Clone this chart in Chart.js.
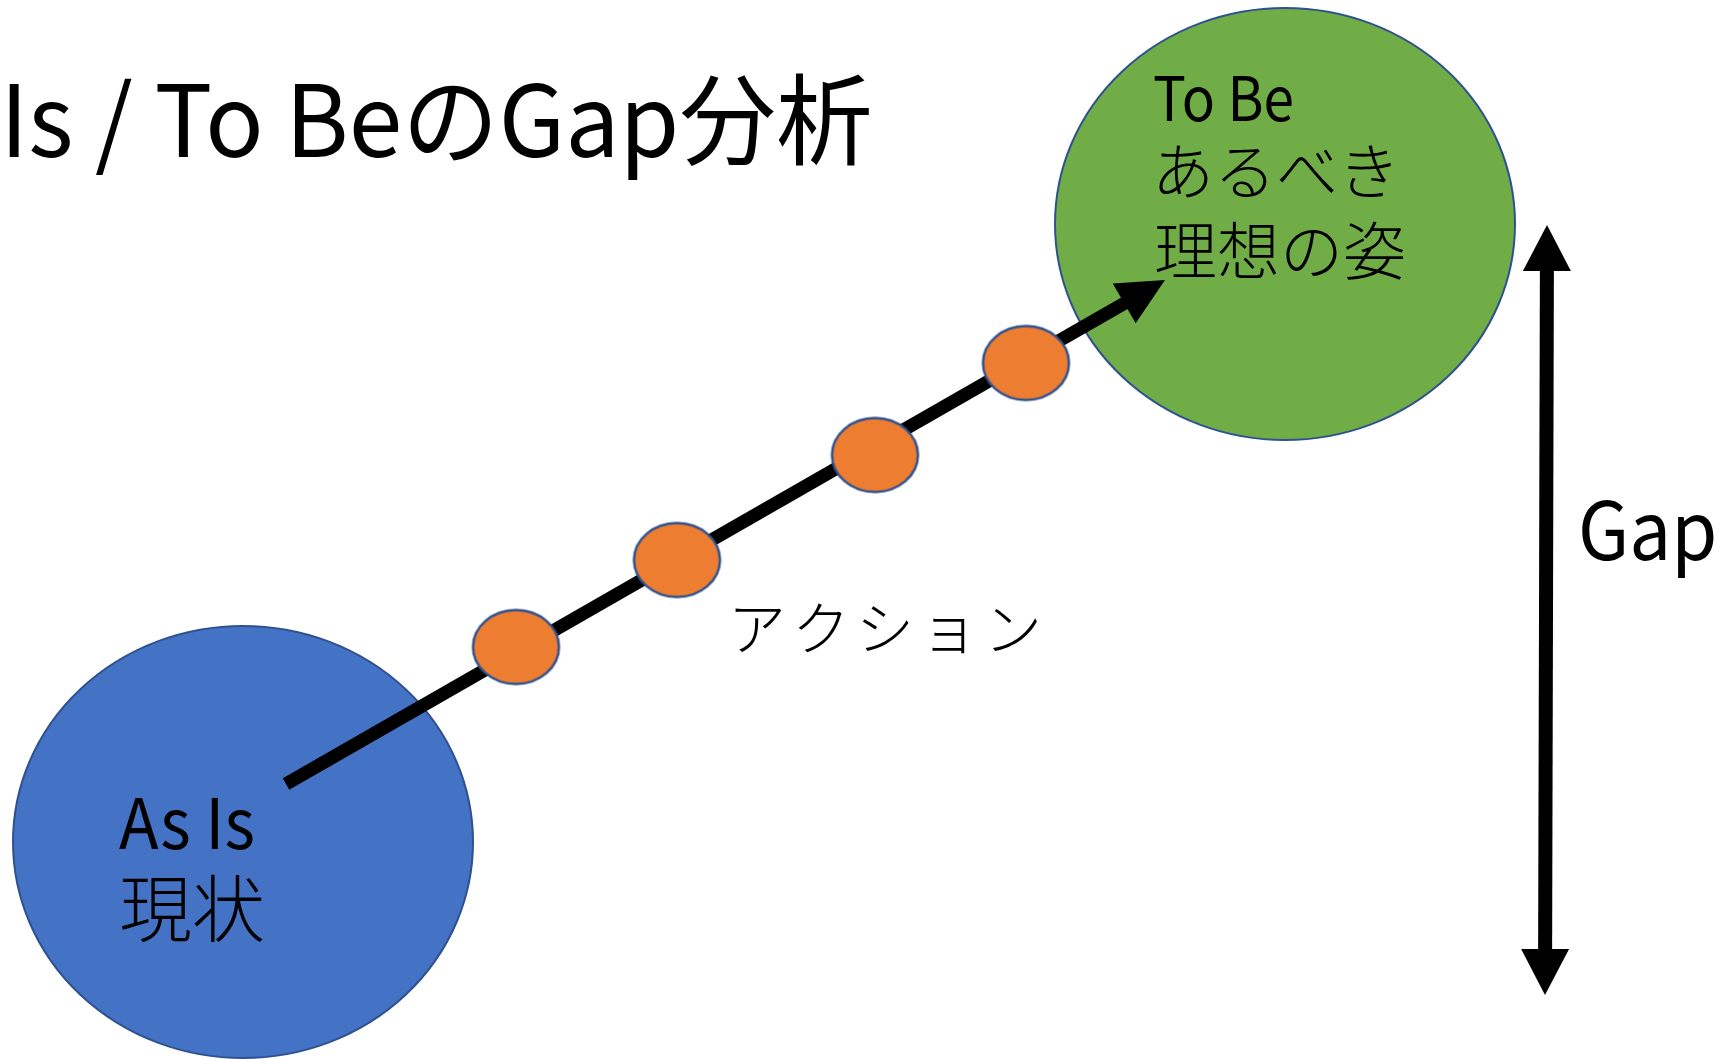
<!DOCTYPE html>
<html lang="ja">
<head>
<meta charset="utf-8">
<title>As Is / To Be の Gap 分析</title>
<script src="https://cdn.jsdelivr.net/npm/chart.js@4.4.1/dist/chart.umd.min.js"></script>
<style>
  html, body { margin: 0; padding: 0; background: #fff; }
  #wrap { width: 1735px; height: 1059px; }
</style>
</head>
<body>
<div id="wrap"><canvas id="graficoGap" width="1735" height="1059"></canvas></div>
<script>
const titulo = "Is / To BeのGap分析";

// 現状 (As Is) と 理想の姿 (To Be)
const nodeNames = ["As Is", "To Be"];
const nodeX = [243, 1285];
const nodeY = [842, 224];

// アクション (steps along the way)
const actionX = [516, 677, 875, 1026];
const actionY = [647, 560, 455, 363];

// action arrow: start -> tip
const pathX = [286, 1165];
const pathY = [784, 280];

// Gap arrow: top tip, bottom tip
const gapX = [1547, 1545];
const gapY = [225, 995];

const FONT = '"Noto Sans CJK JP", "Noto Sans", sans-serif';

const toPoints = (xs, ys) => xs.map((x, i) => ({ x: x, y: ys[i] }));

function ellipseImage(rx, ry, fill, stroke, lw) {
    const c = document.createElement("canvas");
    c.width = Math.ceil(2 * rx + lw + 2);
    c.height = Math.ceil(2 * ry + lw + 2);
    const g = c.getContext("2d");
    g.beginPath();
    g.ellipse(c.width / 2, c.height / 2, rx, ry, 0, 0, Math.PI * 2);
    g.fillStyle = fill;
    g.fill();
    g.lineWidth = lw;
    g.strokeStyle = stroke;
    g.stroke();
    return c;
}

const nodeImages = [
    ellipseImage(230, 216, "#4472C4", "#2F528F", 2),
    ellipseImage(230, 216, "#70AD47", "#2F528F", 2),
];
const actionImage = ellipseImage(43, 37, "#ED7D31", "#2F528F", 2.5);

// text blocks, placed in the same units as the data (sx = horizontal squeeze)
const textos = [
    { text: titulo, x: 0, y: 157, size: 99, sx: 0.975 },
    { text: "To Be", x: nodeX[1] - 132, y: 121, size: 61, sx: 0.9 },
    { text: "あるべき", x: nodeX[1] - 133, y: 195, size: 62, weight: 300 },
    { text: "理想の姿", x: nodeX[1] - 131, y: 274, size: 63, weight: 300 },
    { text: "As Is", x: nodeX[0] - 124, y: 849, size: 70, sx: 0.93 },
    { text: "現状", x: nodeX[0] - 124, y: 936, size: 73, weight: 300 },
    { text: "アクション", x: 728, y: 650, size: 58, weight: 300, pitch: 64 },
    { text: "Gap", x: gapX[0] + 31, y: 560, size: 80, sx: 0.93 },
];

const arrowPlugin = {
    id: "arrowHeads",
    heads(chart, args) {
        const ds = chart.data.datasets[args.index];
        if (!ds.arrow) return [];
        const pts = args.meta.data;
        const out = [];
        const make = (tip, prev) => {
            const dx = tip.x - prev.x, dy = tip.y - prev.y;
            const len = Math.hypot(dx, dy);
            const u = { x: dx / len, y: dy / len };
            const n = { x: -u.y, y: u.x };
            out.push({ tip: tip, u: u, n: n, length: ds.arrow.length, width: ds.arrow.width });
        };
        if (ds.arrow.start) make(pts[0], pts[1]);
        if (ds.arrow.end) make(pts[pts.length - 1], pts[pts.length - 2]);
        return out;
    },
    beforeDatasetDraw(chart, args) {
        const heads = this.heads(chart, args);
        if (!heads.length) return;
        const ctx = chart.ctx;
        ctx.save();
        const L = 5000;
        // cut the shaft where the heads go
        heads.forEach((h) => {
            const b = { x: h.tip.x - h.u.x * (h.length - 1), y: h.tip.y - h.u.y * (h.length - 1) };
            ctx.beginPath();
            ctx.moveTo(b.x + h.n.x * L, b.y + h.n.y * L);
            ctx.lineTo(b.x - h.n.x * L, b.y - h.n.y * L);
            ctx.lineTo(b.x - h.n.x * L - h.u.x * L, b.y - h.n.y * L - h.u.y * L);
            ctx.lineTo(b.x + h.n.x * L - h.u.x * L, b.y + h.n.y * L - h.u.y * L);
            ctx.closePath();
            ctx.clip();
        });
    },
    afterDatasetDraw(chart, args) {
        const heads = this.heads(chart, args);
        if (!heads.length) return;
        const ctx = chart.ctx;
        ctx.restore();
        ctx.save();
        ctx.fillStyle = chart.data.datasets[args.index].borderColor;
        heads.forEach((h) => {
            const b = { x: h.tip.x - h.u.x * h.length, y: h.tip.y - h.u.y * h.length };
            ctx.beginPath();
            ctx.moveTo(h.tip.x, h.tip.y);
            ctx.lineTo(b.x + h.n.x * h.width / 2, b.y + h.n.y * h.width / 2);
            ctx.lineTo(b.x - h.n.x * h.width / 2, b.y - h.n.y * h.width / 2);
            ctx.closePath();
            ctx.fill();
        });
        ctx.restore();
    },
};

const textPlugin = {
    id: "diagramText",
    afterDatasetsDraw(chart) {
        const ctx = chart.ctx;
        const sx = chart.scales.x, sy = chart.scales.y;
        textos.forEach((t) => {
            ctx.save();
            ctx.fillStyle = "#000";
            ctx.textBaseline = "alphabetic";
            ctx.textAlign = "left";
            ctx.font = (t.weight || 400) + " " + t.size + "px " + FONT;
            ctx.translate(sx.getPixelForValue(t.x), sy.getPixelForValue(t.y));
            ctx.scale(t.sx || 1, 1);
            if (t.pitch) {
                Array.from(t.text).forEach((ch, i) => ctx.fillText(ch, i * t.pitch, 0));
            } else {
                ctx.fillText(t.text, 0, 0);
            }
            ctx.restore();
        });
    },
};

const dataGap = {
    datasets: [
        {
            label: "Gap",
            data: toPoints(gapX, gapY),
            showLine: true,
            borderColor: "#000",
            borderWidth: 14,
            borderCapStyle: "butt",
            pointRadius: 0,
            arrow: { start: true, end: true, length: 46, width: 48 },
            clip: false,
            order: 1,
        },
        {
            label: "アクション",
            data: toPoints(actionX, actionY),
            showLine: false,
            pointStyle: actionImage,
            pointRadius: 40,
            clip: false,
            order: 2,
        },
        {
            label: "path",
            data: toPoints(pathX, pathY),
            showLine: true,
            borderColor: "#000",
            borderWidth: 13,
            borderCapStyle: "butt",
            pointRadius: 0,
            arrow: { end: true, length: 47, width: 46 },
            clip: false,
            order: 3,
        },
        {
            label: "nodes",
            data: toPoints(nodeX, nodeY),
            showLine: false,
            pointStyle: (c) => nodeImages[c.dataIndex],
            pointRadius: 200,
            clip: false,
            order: 4,
        },
    ],
};

const configGap = {
    type: "scatter",
    data: dataGap,
    options: {
        responsive: false,
        animation: false,
        events: [],
        layout: { autoPadding: false, padding: 0 },
        scales: {
            x: { type: "linear", min: 0, max: 1735, display: false },
            y: { type: "linear", min: 0, max: 1059, reverse: true, display: false },
        },
        plugins: {
            legend: { display: false },
            tooltip: { enabled: false },
            title: { display: false },
        },
    },
    plugins: [arrowPlugin, textPlugin],
};

const chartGap = new Chart(document.getElementById("graficoGap"), configGap);
</script>
</body>
</html>
